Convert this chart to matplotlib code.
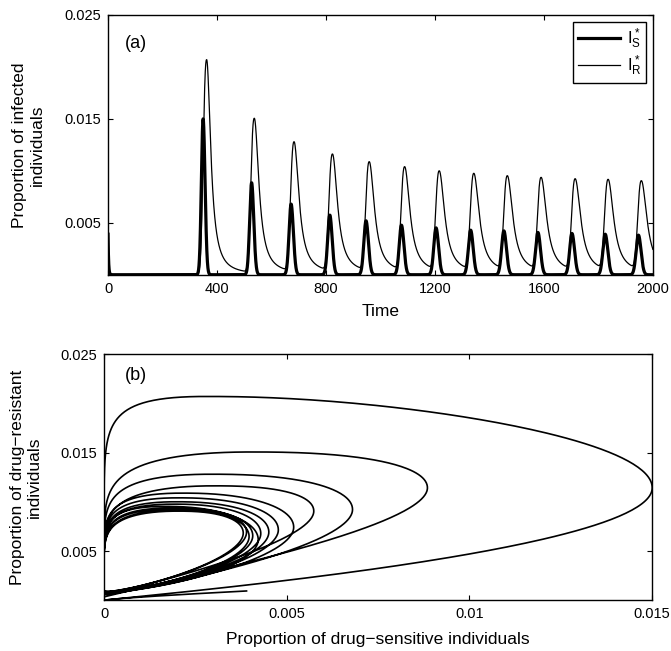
import numpy as np
import matplotlib
matplotlib.use("Agg")
import matplotlib.pyplot as plt

plt.rcParams['font.family'] = ['Liberation Sans', 'DejaVu Sans']
plt.rcParams['mathtext.default'] = 'regular'

# peaks
peak_time_s = [349, 527, 672, 814, 947, 1077, 1204, 1331, 1453, 1578, 1703, 1825, 1947]
peak_time_r = [362, 537, 683, 824, 959, 1089, 1216, 1343, 1466, 1590, 1715, 1836, 1958]
peak_s = [0.0150, 0.00885, 0.0068, 0.00574, 0.00519, 0.00477, 0.00451,
          0.00429, 0.00422, 0.00407, 0.00397, 0.0039, 0.00381]
peak_r = [0.0207, 0.01506, 0.0128, 0.01162, 0.01088, 0.0104, 0.0100,
          0.00976, 0.00953, 0.00937, 0.00924, 0.00918, 0.00905]
# starting point (short segment at bottom of panel (b))
start_s = 0.0039
start_r = 0.00094

x_ticks_a = [0, 400, 800, 1200, 1600, 2000]
y_ticks = [0.005, 0.015, 0.025]
x_ticks_b = [0, 0.005, 0.01, 0.015]
x_ticklabels_b = ['0', '0.005', '0.01', '0.015']


def r_pulse(t, tr, b, f):
    dr = t - tr
    rise = b * np.exp(-(np.abs(dr) / (16.0 * f ** 0.3)) ** 2.5)
    fall = b / (1 + (dr / (18 * f)) ** 2)
    return np.where(dr < 0, rise, fall)


def build_series(t):
    s = start_s * np.exp(-t / 2.0)
    r = start_r * np.exp(-t / 2.5)
    for ts, tr, a, b in zip(peak_time_s, peak_time_r, peak_s, peak_r):
        f = (peak_r[0] / b) ** 0.35          # smaller outbreaks are broader
        ds = t - ts
        w = np.where(ds < 0, 9 * f, 10 * f)
        s = s + a * np.exp(-(ds / w) ** 2)
        base = np.interp(tr, t, r)
        r = r + r_pulse(t, tr, b - base, f)
    return s, r


t = np.linspace(0, 2000, 16001)
i_s, i_r = build_series(t)

fig = plt.figure(figsize=(6.71, 6.51), dpi=100)
ax1 = fig.add_axes([0.161, 0.578, 0.812, 0.399])
ax2 = fig.add_axes([0.155, 0.078, 0.817, 0.378])

ax1.plot(t, i_s, color='black', lw=2.3, label=r'$I^*_S$')
ax1.plot(t, i_r, color='black', lw=0.9, label=r'$I^*_R$')
ax1.set_xlim(0, 2000)
ax1.set_ylim(0, 0.025)
ax1.set_xticks(x_ticks_a)
ax1.set_yticks(y_ticks)
ax1.set_yticklabels([str(v) for v in y_ticks])
ax1.set_xlabel('Time', fontsize=12.5, labelpad=6)
ax1.set_ylabel('Proportion of infected\nindividuals', fontsize=12.5, labelpad=14)
ax1.text(0.03, 0.89, '(a)', transform=ax1.transAxes, fontsize=13, va='center')
leg = ax1.legend(loc='upper right', fontsize=12, handlelength=2.5, fancybox=False,
                 edgecolor='black', framealpha=1, borderaxespad=0.4,
                 labelspacing=0.15, borderpad=0.3, handletextpad=0.4)
leg.get_frame().set_linewidth(1.0)

ax2.plot(i_s, i_r, color='black', lw=1.2)
ax2.set_xlim(0, 0.015)
ax2.set_ylim(0, 0.025)
ax2.set_xticks(x_ticks_b)
ax2.set_xticklabels(x_ticklabels_b)
ax2.set_yticks(y_ticks)
ax2.set_yticklabels([str(v) for v in y_ticks])
ax2.set_xlabel('Proportion of drug\u2212sensitive individuals', fontsize=12.5, labelpad=8)
ax2.set_ylabel('Proportion of drug\u2212resistant\nindividuals', fontsize=12.5, labelpad=13)
ax2.text(0.038, 0.915, '(b)', transform=ax2.transAxes, fontsize=13, va='center')

for ax in (ax1, ax2):
    ax.tick_params(direction='in', top=True, right=True, length=3.5, labelsize=10.5, pad=5)
    for sp in ax.spines.values():
        sp.set_linewidth(1.0)

fig.savefig('out.png', dpi=100)
